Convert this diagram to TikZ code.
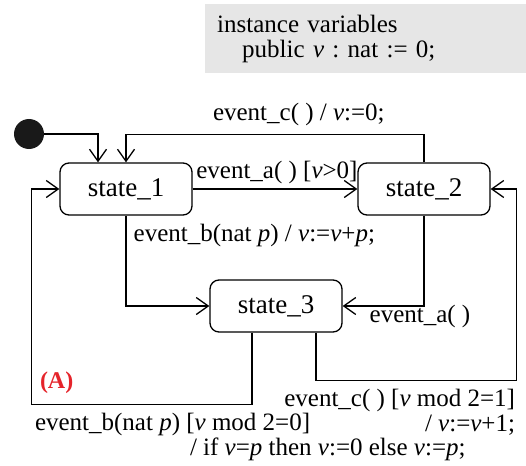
\documentclass[tikz,border=0pt]{standalone}
\usepackage{fontspec}
\setmainfont{Liberation Serif}
\usetikzlibrary{positioning,arrows.meta,calc}
\frenchspacing
\definecolor{varbg}{HTML}{E6E6E6}
\definecolor{mark}{HTML}{E5242B}
\tikzset{
  state/.style={rectangle, rounded corners=9pt, draw, line width=1.3pt, minimum width=132pt, minimum height=52pt, inner sep=0pt, font=\fontsize{27}{30}\selectfont},
  init/.style={circle, fill=black!90, minimum size=30pt, inner sep=0pt},
  vars/.style={rectangle, fill=varbg, anchor=north west, minimum width=321pt, minimum height=69pt, text width=297pt, inner xsep=12pt, align=left, font=\fontsize{25}{25}\selectfont},
  trans/.style={draw, line width=1.3pt, -{Straight Barb[length=12pt,width=17pt]}},
  lbl/.style={inner sep=0pt, font=\fontsize{25}{25}\selectfont},
  tag/.style={inner sep=0pt, text=mark, font=\fontsize{24}{24}\selectfont\bfseries},
}

\begin{document}
\begin{tikzpicture}[x=1pt,y=-1pt]
\useasboundingbox (0,0) rectangle (526,465);
\node[vars] (vars) at (205,4) {instance variables\\\hspace*{25pt}public \textit{v} : nat := 0;};
\node[init] (init) at (29,134) {};
\node[state] (s1) at (126,189) {state\_1};
\node[state] (s2) at (424,189) {state\_2};
\node[state] (s3) at (276,306) {state\_3};
\draw[trans] (init) -| ([xshift=-28pt]s1.north);
\draw[trans] (s2.north) -- ++(0,-28) -| node[lbl, pos=0.21, anchor=base, yshift=14pt] {event\_c( ) / \textit{v}:=0;} (s1.north);
\draw[trans] (s1) -- node[lbl, pos=0, anchor=base west, xshift=3pt, yshift=11pt] {event\_a( ) [\textit{v}>0]} (s2);
\draw[trans] (s1.south) |- node[lbl, pos=0, anchor=base west, xshift=7pt, yshift=-26pt] {event\_b(nat \textit{p}) / \textit{v}:=\textit{v}+\textit{p};} (s3.west);
\draw[trans] (s2.south) |- node[lbl, pos=0.5, anchor=base west, xshift=-55pt, yshift=-16pt] {event\_a( )} (s3.east);
\draw[trans] ([xshift=40pt]s3.south) -- ++(0,48) -| node[lbl, pos=0.5, anchor=north east, align=right, xshift=-1pt, yshift=-8pt] {event\_c( ) [\textit{v} mod 2=1]\\/ \textit{v}:=\textit{v}+1;} ([xshift=26pt]s2.east) -- (s2.east);
\draw[trans] ([xshift=-24pt]s3.south) -- ++(0,72) -| node[tag, pos=0.5, anchor=base west, xshift=8pt, yshift=16pt] {(A)} node[lbl, pos=0.5, anchor=north west, align=left, xshift=3pt, yshift=-8pt] {event\_b(nat \textit{p}) [\textit{v} mod 2=0]\\\hspace*{155pt}/ if \textit{v}=\textit{p} then \textit{v}:=0 else \textit{v}:=\textit{p};} ([xshift=-28pt]s1.west) -- (s1.west);
\end{tikzpicture}
\end{document}
